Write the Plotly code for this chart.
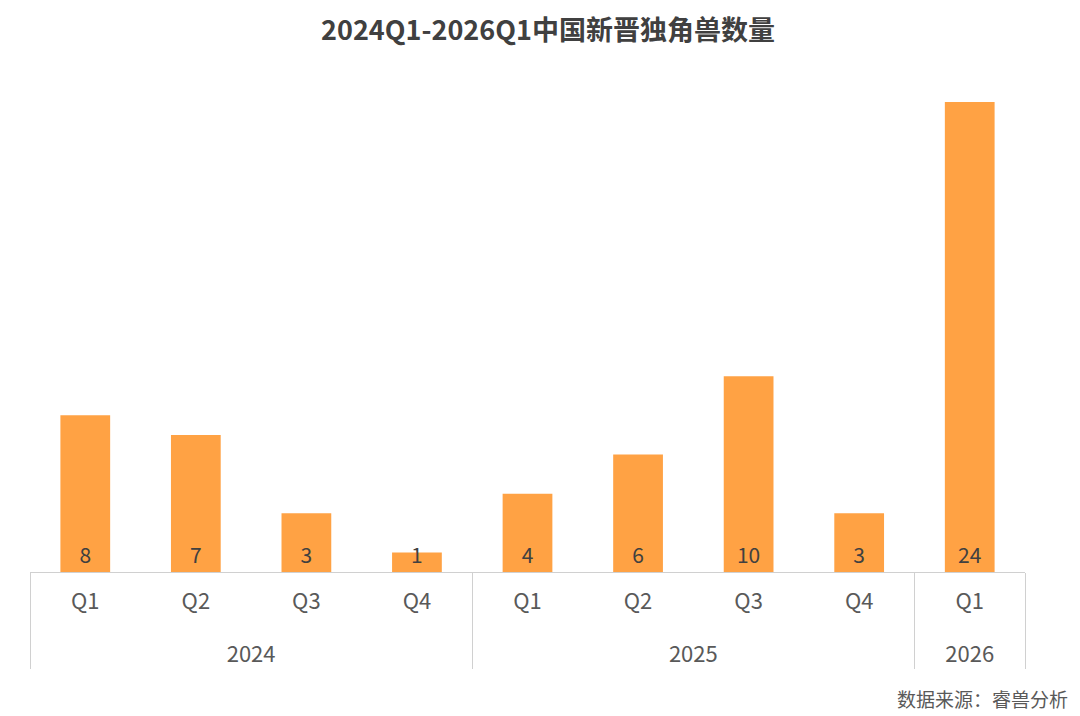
import plotly.graph_objects as go

years = ["2024","2024","2024","2024","2025","2025","2025","2025","2026"]
quarters = ["Q1","Q2","Q3","Q4","Q1","Q2","Q3","Q4","Q1"]
counts = [8,7,3,1,4,6,10,3,24]

F = "Noto Sans CJK SC, Noto Sans, sans-serif"
fig = go.Figure(go.Bar(
    x=[["<span style='font-size:12px'> </span><br>" + y for y in years], quarters], y=counts,
    text=[str(v) for v in counts],
    textposition="inside", insidetextanchor="start", constraintext="none", textangle=0,
    textfont=dict(size=21, color="#404040", family=F),
    marker=dict(color="#FFA244", line=dict(width=0)), width=0.45, cliponaxis=False))

fig.update_layout(
    width=1080, height=716, paper_bgcolor="white", plot_bgcolor="white",
    margin=dict(l=22, r=63, t=94, b=152), showlegend=False,
    title=dict(text="<b>2024Q1-2026Q1中国新晋独角兽数量</b>", x=0.5, xanchor="center",
               y=0.968, yanchor="middle", font=dict(size=27, color="#404040", family=F)),
    xaxis=dict(type="multicategory", showline=True, linecolor="#D0D0D0", linewidth=1,
               showdividers=True, dividercolor="#D0D0D0", dividerwidth=1,
               ticklabelstandoff=10,
               tickfont=dict(size=22, color="#595959", family=F), ticks=""),
    yaxis=dict(range=[0,24], visible=False, showgrid=False),
    annotations=[dict(text="数据来源：睿兽分析", xref="paper", yref="paper", x=1.045, y=-0.27,
                      xanchor="right", yanchor="middle", showarrow=False,
                      font=dict(size=19, color="#595959", family=F))])
fig.write_html("out.html")
